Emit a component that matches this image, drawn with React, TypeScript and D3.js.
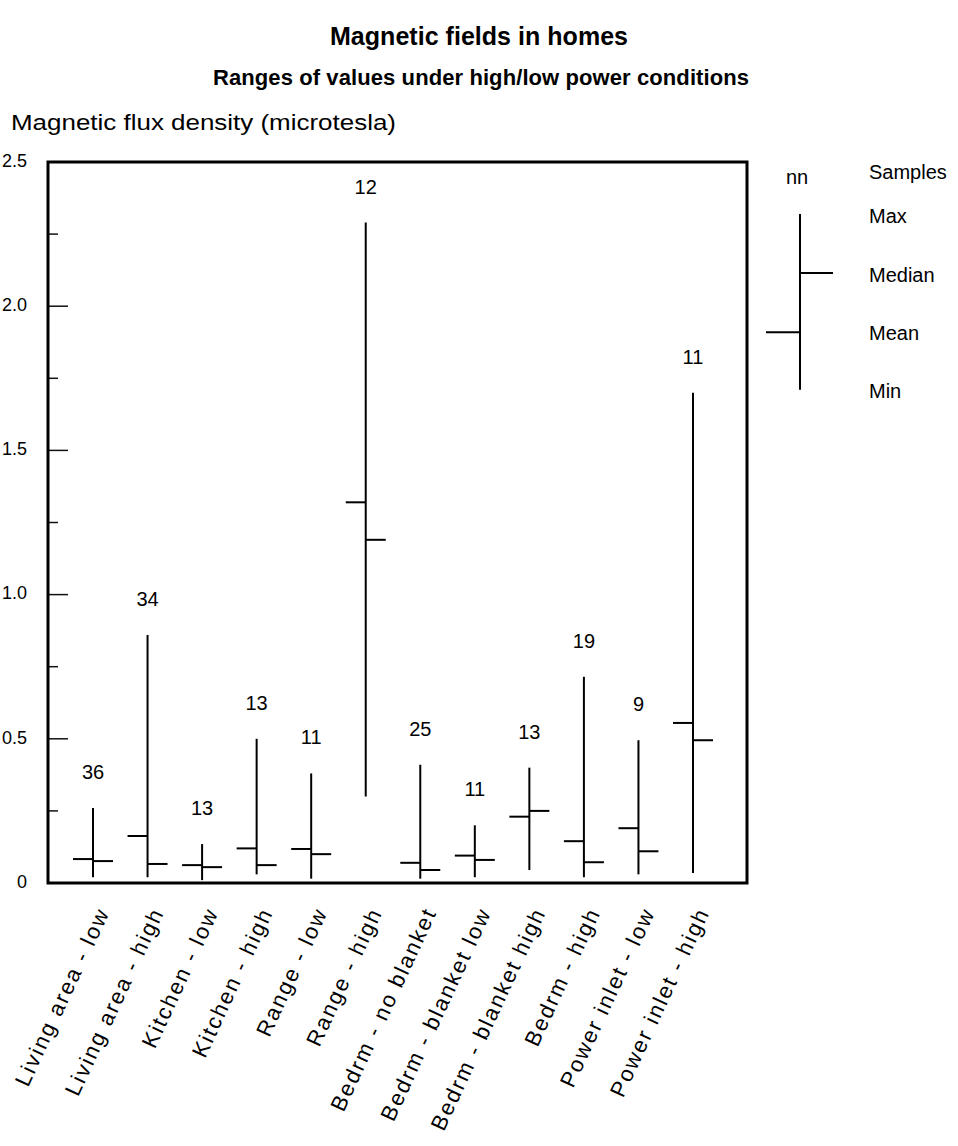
import React from "react";
import * as d3 from "d3";

// data
const categories = [
  "Living area - low",
  "Living area - high",
  "Kitchen - low",
  "Kitchen - high",
  "Range - low",
  "Range - high",
  "Bedrm - no blanket",
  "Bedrm - blanket low",
  "Bedrm - blanket high",
  "Bedrm - high",
  "Power inlet - low",
  "Power inlet - high",
];
const samples = [36, 34, 13, 13, 11, 12, 25, 11, 13, 19, 9, 11];
const maxVals = [0.26, 0.86, 0.135, 0.5, 0.38, 2.29, 0.41, 0.2, 0.4, 0.715, 0.495, 1.7];
const minVals = [0.02, 0.02, 0.01, 0.03, 0.015, 0.3, 0.015, 0.02, 0.045, 0.02, 0.03, 0.035];
const meanVals = [0.083, 0.163, 0.062, 0.12, 0.118, 1.32, 0.07, 0.095, 0.23, 0.145, 0.19, 0.555];
const medianVals = [0.076, 0.066, 0.055, 0.062, 0.1, 1.19, 0.045, 0.08, 0.25, 0.072, 0.11, 0.495];

const yTicks = [0, 0.25, 0.5, 0.75, 1, 1.25, 1.5, 1.75, 2, 2.25, 2.5];
const yLabels = ["0", "0.5", "1.0", "1.5", "2.0", "2.5"];

// legend key (drawn on the same y scale)
const legendMax = 2.32;
const legendMedian = 2.115;
const legendMean = 1.91;
const legendMin = 1.71;

const W = 958;
const H = 1146;
const left = 48;
const right = 747;
const top = 162;
const bottom = 883;
const font = "'Liberation Sans', Arial, Helvetica, sans-serif";

export default function App() {
  const y = d3.scaleLinear().domain([0, 2.5]).range([bottom, top]);
  const x = d3.scalePoint<string>().domain(categories).range([93, 693]);
  const tickLen = 20;

  const rows = categories.map((c, i) => ({
    c,
    n: samples[i],
    max: maxVals[i],
    min: minVals[i],
    mean: meanVals[i],
    median: medianVals[i],
  }));

  const legX = 800;

  return (
    <svg
      width={W}
      height={H}
      style={{ position: "absolute", left: 0, top: 0, background: "#fff" }}
      fontFamily={font}
    >
      <rect width={W} height={H} fill="#fff" />
      <text x={479} y={45} textAnchor="middle" fontSize={25} fontWeight="bold" textLength={298} lengthAdjust="spacing">
        Magnetic fields in homes
      </text>
      <text x={481} y={85} textAnchor="middle" fontSize={22} fontWeight="bold" textLength={536} lengthAdjust="spacing">
        Ranges of values under high/low power conditions
      </text>
      <text transform="translate(11,130) scale(1.18,1)" fontSize={22}>
        Magnetic flux density (microtesla)
      </text>

      {/* y ticks */}
      {yTicks.map((t) => {
        const major = Math.abs((t * 2) % 1) < 1e-6;
        return (
          <line key={t} x1={left} x2={left + (major ? 20 : 10)} y1={y(t)} y2={y(t)} stroke="#111" strokeWidth={1.5} />
        );
      })}
      {yLabels.map((l) => (
        <text key={l} x={27} y={y(+l)} textAnchor="end" dominantBaseline="middle" fontSize={18}>
          {l}
        </text>
      ))}

      {/* frame */}
      <rect x={left} y={top} width={right - left} height={bottom - top} fill="none" stroke="#000" strokeWidth={3} />

      {rows.map((d) => {
        const cx = x(d.c)!;
        return (
          <g key={d.c} stroke="#000" strokeWidth={2}>
            <line x1={cx} x2={cx} y1={y(d.max)} y2={y(d.min)} />
            <line x1={cx - tickLen} x2={cx} y1={y(d.mean)} y2={y(d.mean)} />
            <line x1={cx} x2={cx + tickLen} y1={y(d.median)} y2={y(d.median)} />
            <text x={cx} y={y(d.max) - 29} textAnchor="middle" fontSize={20} stroke="none" fill="#000">
              {d.n}
            </text>
          </g>
        );
      })}

      {/* x labels */}
      {categories.map((c) => {
        const cx = x(c)!;
        return (
          <text
            key={c}
            transform={`translate(${cx + 17},${bottom + 29}) rotate(-65)`}
            textAnchor="end"
            fontSize={22}
            letterSpacing={2}
          >
            {c}
          </text>
        );
      })}

      {/* legend */}
      <g stroke="#000" strokeWidth={2}>
        <line x1={legX} x2={legX} y1={y(legendMax)} y2={y(legendMin)} />
        <line x1={legX} x2={legX + 33} y1={y(legendMedian)} y2={y(legendMedian)} />
        <line x1={legX - 34} x2={legX} y1={y(legendMean)} y2={y(legendMean)} />
      </g>
      <text x={legX - 3} y={184} textAnchor="middle" fontSize={20}>nn</text>
      <g fontSize={20}>
        <text x={869} y={179}>Samples</text>
        <text x={869} y={y(legendMax) + 9}>Max</text>
        <text x={869} y={y(legendMedian) + 9}>Median</text>
        <text x={869} y={y(legendMean) + 8}>Mean</text>
        <text x={869} y={y(legendMin) + 8}>Min</text>
      </g>
    </svg>
  );
}
